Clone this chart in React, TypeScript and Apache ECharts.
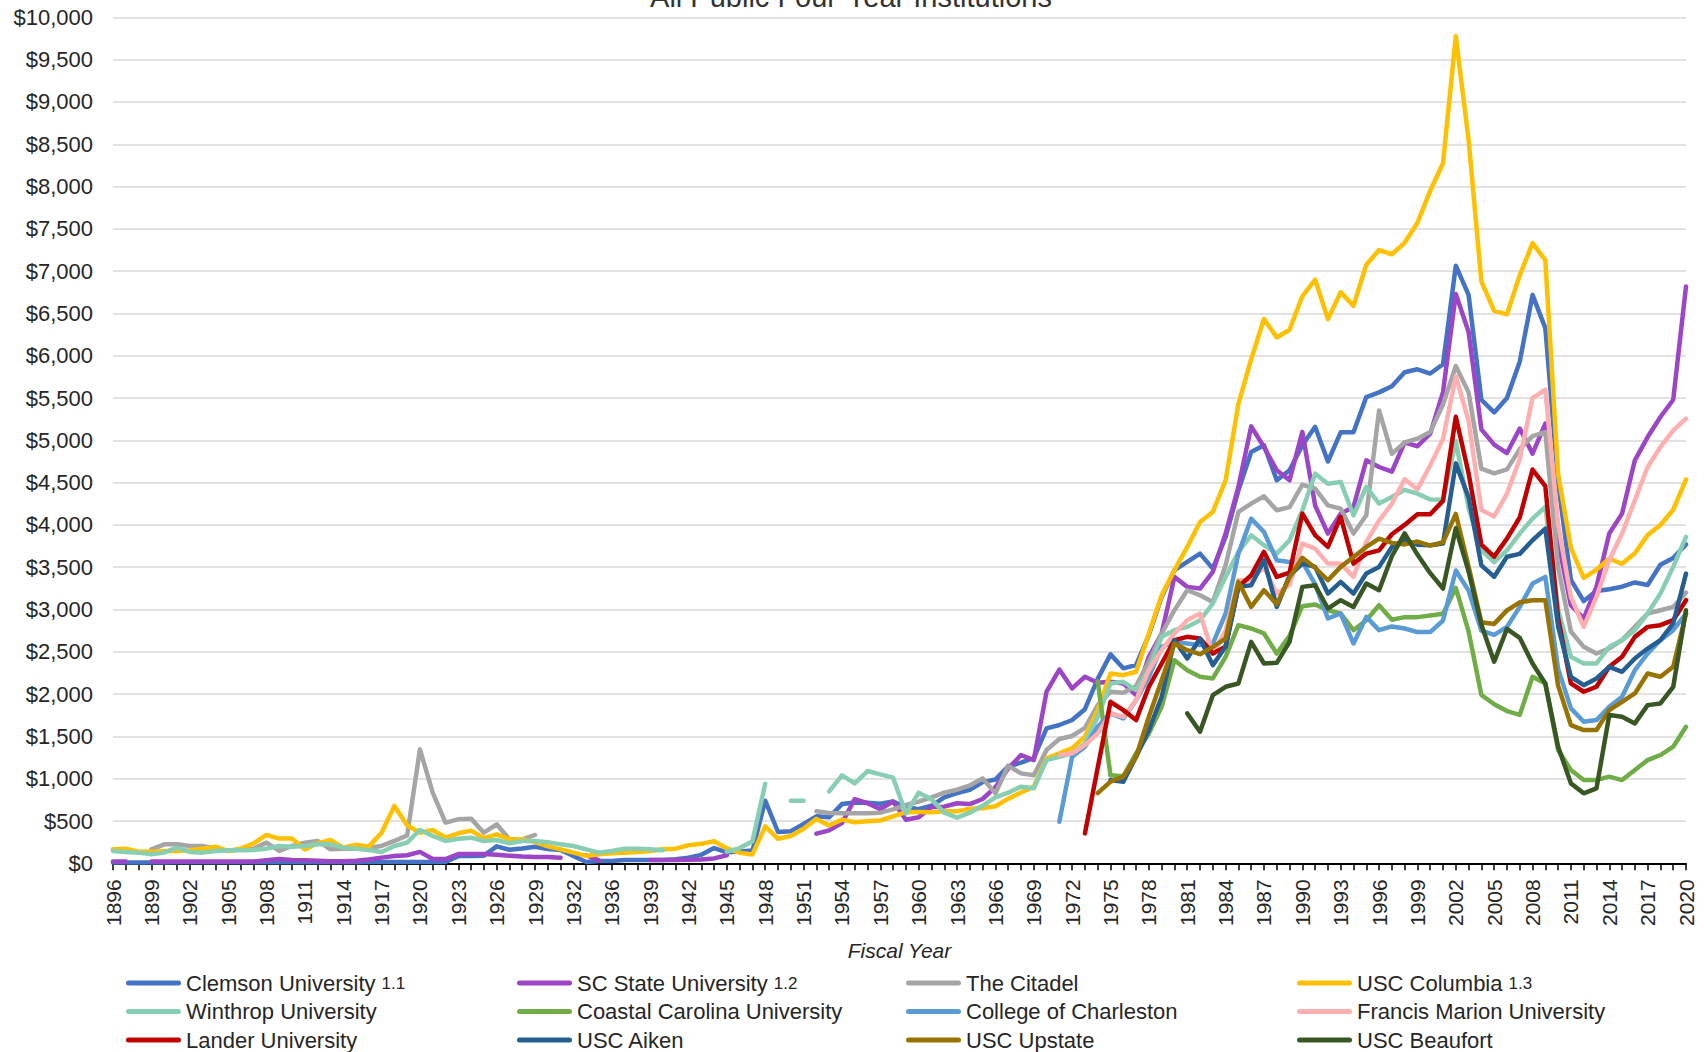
import React, { useEffect, useRef } from "react";
import * as echarts from "echarts";

const FONT = "'Liberation Sans', Arial, sans-serif";

// Fiscal years shown on the category axis (1934 is not in the source table)
const years = [
  "1896","1897","1898","1899","1900","1901","1902","1903","1904","1905",
  "1906","1907","1908","1909","1910","1911","1912","1913","1914","1915",
  "1916","1917","1918","1919","1920","1921","1922","1923","1924","1925",
  "1926","1927","1928","1929","1930","1931","1932","1933",
  "1935","1936","1937","1938","1939","1940","1941","1942","1943","1944",
  "1945","1946","1947","1948","1949","1950","1951","1952","1953","1954",
  "1955","1956","1957","1958","1959","1960","1961","1962","1963","1964",
  "1965","1966","1967","1968","1969","1970","1971","1972","1973","1974",
  "1975","1976","1977","1978","1979","1980","1981","1982","1983","1984",
  "1985","1986","1987","1988","1989","1990","1991","1992","1993","1994",
  "1995","1996","1997","1998","1999","2000","2001","2002","2003","2004",
  "2005","2006","2007","2008","2009","2010","2011","2012","2013","2014",
  "2015","2016","2017","2018","2019","2020",
];

const N = null;

const clemson = [
  10,10,10,10,10,12,12,12,12,12,
  12,12,12,12,12,12,12,12,12,12,
  15,15,15,15,15,15,15,85,85,90,
  200,160,175,195,170,157,87,16,
  28,28,39,39,40,40,47,67,100,180,
  130,140,150,740,370,380,465,555,545,700,
  720,715,705,730,665,640,680,780,830,870,
  960,990,1145,1190,1245,1595,1635,1694,1822,2180,
  2470,2305,2344,2700,3150,3465,3563,3661,3484,3858,
  4409,4862,4941,4528,4646,4941,5160,4750,5095,5095,
  5512,5567,5640,5805,5840,5790,5900,7065,6720,5480,
  5330,5500,5930,6720,6327,4500,3350,3100,3220,3240,
  3270,3320,3290,3530,3610,3770,
];

const scState = [
  20,20,N,20,20,20,20,20,20,20,
  20,20,35,50,40,35,30,25,25,30,
  45,67,87,95,135,50,50,110,110,110,
  100,90,80,75,75,65,N,95,
  35,N,N,N,40,40,40,42,45,58,
  95,N,N,N,N,N,N,350,390,475,
  760,710,640,730,515,545,665,670,710,700,
  760,900,1120,1280,1220,2030,2291,2067,2205,2134,
  2146,2126,1988,2441,2717,3386,3268,3248,3445,3898,
  4449,5165,4921,4646,4528,5100,4230,3898,4134,4213,
  4764,4685,4630,4975,4930,5080,5570,6730,6280,5130,
  4950,4850,5140,4843,5197,3800,3050,2894,3268,3898,
  4134,4764,5039,5276,5480,6819,
];

const citadel = [
  N,N,N,165,224,224,205,205,173,146,
  165,173,244,146,205,244,264,165,173,173,
  185,205,264,330,1347,835,480,520,528,362,
  461,283,283,335,N,N,N,N,
  N,N,N,N,N,N,N,N,N,N,
  N,N,N,N,N,N,N,615,595,591,
  591,591,599,638,690,729,780,835,870,920,
  1004,827,1155,1063,1040,1339,1470,1505,1600,1870,
  2028,2016,2094,2382,2717,2992,3228,3169,3090,3524,
  4154,4252,4339,4173,4210,4475,4430,4232,4193,3898,
  4114,5354,4840,4975,5020,5100,5423,5878,5567,4666,
  4609,4657,4896,5050,5098,3500,2740,2559,2480,2540,
  2638,2795,2953,2992,3031,3200,
];

const uscColumbia = [
  165,173,138,138,146,146,154,173,197,146,
  173,236,335,292,292,165,236,276,185,220,
  197,362,678,449,362,394,303,355,386,296,
  343,284,284,250,200,165,126,87,
  106,118,126,134,146,165,173,213,230,260,
  175,125,105,437,290,323,408,525,447,516,
  486,496,506,555,604,605,604,615,614,646,
  650,674,764,837,906,1240,1300,1362,1497,1811,
  2244,2224,2264,2717,3169,3465,3740,4035,4154,4528,
  5430,5959,6435,6216,6307,6703,6900,6433,6750,6590,
  7076,7250,7200,7335,7572,7950,8276,9776,8550,6880,
  6530,6490,6950,7331,7130,4600,3730,3375,3470,3600,
  3540,3665,3880,4000,4180,4535,
];

const winthrop = [
  146,134,126,106,126,185,134,126,146,154,
  154,158,173,205,197,205,224,224,185,173,
  158,134,205,244,394,323,264,291,303,264,
  276,236,264,264,250,224,205,165,
  126,146,173,173,165,154,N,N,N,N,
  138,180,260,940,N,740,740,N,850,1039,
  945,1091,1051,1012,590,835,756,598,541,598,
  680,780,835,906,886,1220,1260,1299,1417,1732,
  2126,2146,2047,2283,2677,2756,2795,2874,3071,3386,
  3681,3878,3760,3661,3819,4173,4606,4488,4508,4114,
  4449,4252,4330,4415,4370,4300,4297,4992,4200,3700,
  3560,3700,3898,4075,4213,3000,2441,2362,2362,2559,
  2638,2756,2953,3189,3504,3858,
];

const coastal = [
  2150,
  1040,1030,1299,1535,1850,2401,2283,2205,2185,2441,
  2815,2776,2717,2480,2690,3040,3060,2992,2953,2756,
  2874,3051,2880,2910,2910,2930,2950,3255,2741,1990,
  1880,1800,1755,2205,2126,1339,1102,984,984,1024,
  984,1102,1220,1280,1378,1614,
];

const charleston = [
  492,1260,1378,1614,
  1772,1713,1929,2205,2559,2618,2598,2579,2598,2953,
  3661,4075,3917,3583,3563,3563,3300,2894,2953,2598,
  2913,2756,2800,2776,2733,2733,2870,3462,3224,2750,
  2700,2795,3031,3307,3386,2300,1831,1673,1693,1850,
  1969,2283,2480,2638,2756,2953,
];

const francisMarion = [
  1280,1300,1398,1535,
  1772,1732,1929,2283,2520,2717,2874,2953,2480,2750,
  3346,3346,3504,3189,3290,3779,3720,3543,3543,3386,
  3800,4050,4250,4540,4420,4704,5016,5758,5231,4176,
  4100,4370,4780,5500,5600,4000,3150,2795,3150,3583,
  3898,4291,4685,4921,5118,5256,
];

const lander = [
  354,1130,
  1909,1811,1693,2087,2362,2638,2677,2657,2480,2559,
  3268,3405,3681,3386,3435,4134,3880,3740,4094,3543,
  3661,3700,3890,4000,4127,4127,4285,5278,4610,3767,
  3625,3838,4088,4655,4459,2900,2126,2028,2087,2323,
  2441,2677,2795,2815,2874,3110,
];

const uscAiken = [
  984,965,1260,1575,1969,2638,2421,2657,2343,2559,
  3268,3287,3583,3031,3400,3543,3504,3189,3327,3189,
  3425,3504,3740,3825,3766,3760,3780,4728,4326,3522,
  3388,3624,3658,3819,3957,2800,2205,2106,2185,2323,
  2264,2421,2539,2638,2835,3425,
];

const uscUpstate = [
  830,
  965,1024,1260,1732,2165,2598,2520,2472,2559,2657,
  3327,3031,3228,3063,3380,3612,3494,3346,3504,3622,
  3740,3838,3788,3770,3804,3756,3795,4130,3507,2850,
  2830,2990,3085,3110,3110,2100,1634,1575,1575,1811,
  1909,2008,2244,2205,2323,2953,
];

const uscBeaufort = [
  1772,1555,1988,2087,
  2126,2618,2362,2370,2618,3268,3287,3012,3110,3031,
  3307,3228,3630,3900,3650,3430,3248,3960,3450,2820,
  2383,2772,2665,2362,2126,1378,945,827,886,1752,
  1732,1654,1870,1890,2087,2992,
];

// pad a series that begins in a later year with empty leading cells
function fromYear(start: string, vals: (number | null)[]) {
  const idx = years.indexOf(start);
  const pad: (number | null)[] = [];
  for (let k = 0; k < idx; k++) pad.push(null);
  return pad.concat(vals);
}

const seriesDefs = [
  { name: "Clemson University 1.1", color: "#4472C4", data: clemson },
  { name: "SC State University 1.2", color: "#9C45C6", data: scState },
  { name: "The Citadel", color: "#A5A5A5", data: citadel },
  { name: "USC Columbia 1.3", color: "#FFC000", data: uscColumbia },
  { name: "Winthrop University", color: "#88CEB2", data: winthrop },
  { name: "Coastal Carolina University", color: "#70AD47", data: fromYear("1974", coastal) },
  { name: "College of Charleston", color: "#5B9BD5", data: fromYear("1971", charleston) },
  { name: "Francis Marion University", color: "#FFAFAF", data: fromYear("1971", francisMarion) },
  { name: "Lander University", color: "#C00000", data: fromYear("1973", lander) },
  { name: "USC Aiken", color: "#255E91", data: fromYear("1975", uscAiken) },
  { name: "USC Upstate", color: "#997300", data: fromYear("1974", uscUpstate) },
  { name: "USC Beaufort", color: "#385723", data: fromYear("1981", uscBeaufort) },
];

const legendColumns = [
  [0, 4, 8],
  [1, 5, 9],
  [2, 6, 10],
  [3, 7, 11],
];
const legendLefts = [126, 517, 906, 1297];

const ICON = "path://M2.5,0 L52.5,0 A2.5,2.5 0 0 1 52.5,5 L2.5,5 A2.5,2.5 0 0 1 2.5,0 Z";

function fmtDollar(v: number) {
  return "$" + String(v).replace(/\B(?=(\d{3})+(?!\d))/g, ",");
}

export default function App() {
  const ref = useRef<HTMLDivElement>(null);

  useEffect(() => {
    if (!ref.current) return;
    const chart = echarts.init(ref.current, undefined, { renderer: "svg" });

    const legends = legendColumns.map((col, ci) => ({
      show: true,
      type: "plain",
      orient: "vertical",
      left: legendLefts[ci],
      top: 972,
      width: 380,
      height: 200,
      padding: 0,
      itemWidth: 55,
      itemHeight: 5,
      itemGap: 6.5,
      icon: ICON,
      selectedMode: false,
      data: col.map((k) => seriesDefs[k].name),
      formatter: (name: string) => {
        const m = name.match(/^(.*) (1\.\d)$/);
        return m ? `${m[1]} {s|${m[2]}}` : name;
      },
      textStyle: {
        fontFamily: FONT,
        fontSize: 22,
        color: "#262626",
        rich: {
          s: { fontFamily: FONT, fontSize: 17, color: "#262626" },
        },
      },
    }));

    chart.setOption({
      animation: false,
      textStyle: { fontFamily: FONT },
      grid: { left: 113, right: 21, top: 17.4, bottom: 188.7, containLabel: false },
      graphic: [
        {
          type: "text",
          x: 851,
          y: 11,
          style: {
            text: "All Public Four-Year Institutions",
            align: "center",
            verticalAlign: "bottom",
            fontFamily: FONT,
            fontSize: 29,
            fill: "#333333",
          },
        },
      ],
      legend: legends,
      xAxis: {
        type: "category",
        data: years,
        boundaryGap: false,
        name: "Fiscal Year",
        nameLocation: "middle",
        nameGap: 77,
        nameTextStyle: { fontFamily: FONT, fontStyle: "italic", fontSize: 21, color: "#262626" },
        axisLine: { lineStyle: { color: "#000000", width: 2 } },
        axisTick: { show: true, interval: 0, length: 7, lineStyle: { color: "#000000", width: 1.5 } },
        axisLabel: { interval: 2, rotate: 90, fontSize: 21, margin: 16, color: "#262626", fontFamily: FONT },
        splitLine: { show: false },
      },
      yAxis: {
        type: "value",
        min: 0,
        max: 10000,
        interval: 500,
        axisLine: { show: false },
        axisTick: { show: false },
        splitLine: { lineStyle: { color: "#D9D9D9", width: 1.5 } },
        axisLabel: { formatter: fmtDollar, fontSize: 22, color: "#262626", margin: 20, fontFamily: FONT },
      },
      series: seriesDefs.map((s) => ({
        name: s.name,
        type: "line",
        data: s.data,
        symbol: "none",
        showSymbol: false,
        connectNulls: false,
        lineStyle: { width: 4.5, color: s.color, cap: "round", join: "round" },
        itemStyle: { color: s.color },
        emphasis: { disabled: true },
      })),
    });

    return () => chart.dispose();
  }, []);

  return (
    <div
      ref={ref}
      style={{ position: "absolute", left: 0, top: 0, width: 1707, height: 1052 }}
    />
  );
}
